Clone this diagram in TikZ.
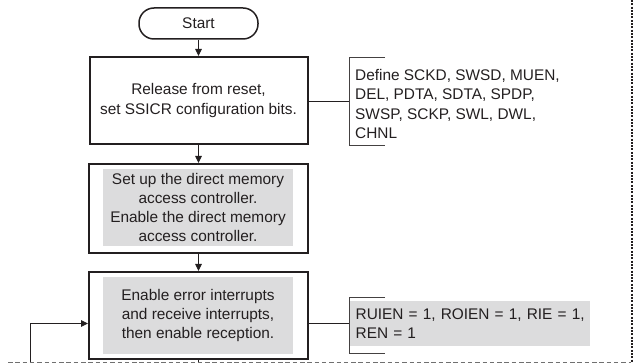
\documentclass[tikz,border=0pt]{standalone}
\usepackage{fontspec}
\setmainfont{Liberation Sans}
\usetikzlibrary{arrows.meta}
\definecolor{ink}{HTML}{231F20}
\definecolor{shade}{HTML}{DCDCDD}
\definecolor{dashgray}{HTML}{707070}
\tikzset{
  every node/.style={font=\fontsize{15.4}{19.3}\selectfont, text=ink},
  procbox/.style={draw=ink, line width=2pt, minimum width=#1, inner sep=0pt},
  graybox/.style={fill=shade, align=center, inner sep=0pt, minimum width=190pt, minimum height=77pt},
  term/.style={draw=ink, line width=1.5pt, rounded corners=15pt, minimum width=119pt, minimum height=31pt, inner sep=0pt},
  flow/.style={draw=ink, line width=0.9pt, -{Triangle[length=7pt,width=6.5pt]}},
  plain/.style={draw=ink, line width=0.9pt},
  brack/.style={draw=ink!85, line width=0.9pt},
}
\begin{document}
\begin{tikzpicture}[x=1pt,y=-1pt]
\useasboundingbox (0,0) rectangle (635,363);
% terminal
\node[term] (start) at (198.5,23.5) {Start};
% box 1
\node[procbox=218pt, minimum height=87pt, align=center] (b1) at (198.5,100.5) {Release from reset,\\set SSICR configuration bits.};
% box 2
\node[graybox] (g2) at (198,207.5) {Set up the direct memory\\access controller.\\Enable the direct memory\\access controller.};
\node[procbox=219pt, minimum height=89pt] (b2) at (198.5,208.5) {};
% box 3
\node[graybox] (g3) at (198,315.5) {Enable error interrupts\\and receive interrupts,\\then enable reception.};
\node[procbox=219pt, minimum height=87pt] (b3) at (198.5,315.5) {};
% arrows
\draw[flow] (start) -- (b1);
\draw[flow] (b1) -- (b2);
\draw[flow] (b2) -- (b3);
% annotation 1
\node[anchor=west, align=left, inner sep=0pt] (n1) at (355,104) {Define SCKD, SWSD, MUEN,\\DEL, PDTA, SDTA, SPDP,\\SWSP, SCKP, SWL, DWL,\\CHNL};
\coordinate (k1t) at (349,57);
\coordinate (k1b) at (349,145);
\coordinate (k1m) at (349,101);
\draw[brack] (385,57) -- (k1t) -- (k1b) -- (385,145);
\draw[plain] (b1.east |- k1m) -- (k1m);
% annotation 2
\node[fill=shade, anchor=west, align=left, inner xsep=5pt, inner ysep=0pt, minimum height=45pt, text width=231pt] (n2) at (349,323.5) {\hspace*{1.5pt}RUIEN = 1, ROIEN = 1, RIE = 1,\\\hspace*{1.5pt}REN = 1};
\coordinate (k2t) at (349,297);
\coordinate (k2b) at (349,353);
\coordinate (k2m) at (349,323.5);
\draw[brack] (385,297) -- (k2t) -- (k2b) -- (385,353);
\draw[plain] (b3.east |- k2m) -- (k2m);
% feedback loop
\coordinate (fb0) at (30,363);
\coordinate (fb1) at (30,323.5);
\draw[flow] (fb0) -- (fb1) -- (b3.west |- fb1);
% line down from box 3
\coordinate (down) at (198.5,363);
\draw[plain] (b3.south) -- (down);
% frame lines
\coordinate (h0) at (8,362.5);
\coordinate (h1) at (631,362.5);
\draw[dashgray, line width=0.9pt, dash pattern=on 4.5pt off 2.8pt] (h0) -- (h1);
\coordinate (v0) at (632,0);
\coordinate (v1) at (632,363);
\draw[ink, line width=2.2pt, dash pattern=on 2pt off 1.3pt] (v0) -- (v1);
\end{tikzpicture}
\end{document}
